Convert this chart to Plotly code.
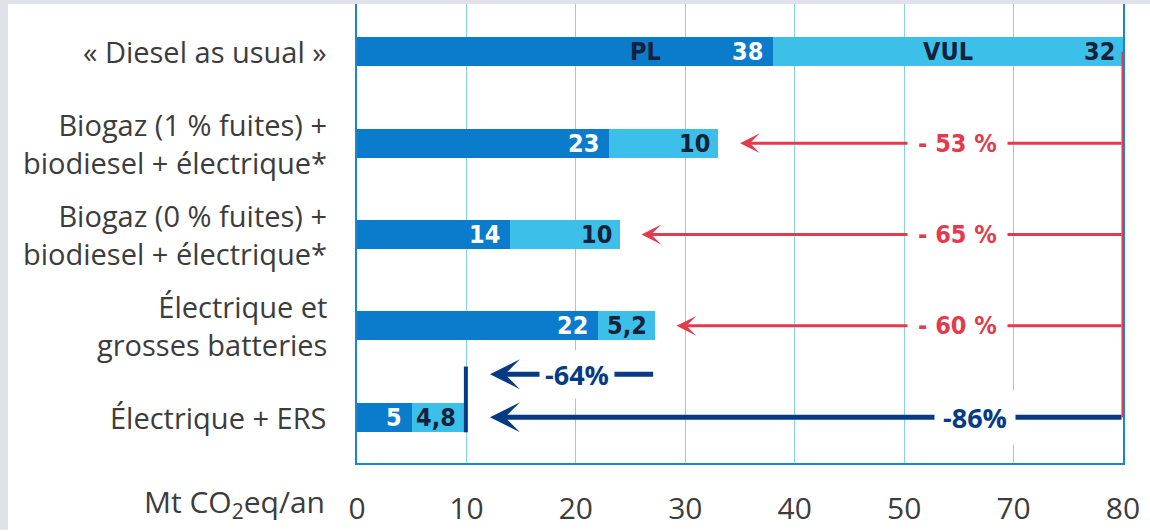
import plotly.graph_objects as go

# ---------------- data ----------------
categories = [
    "« Diesel as usual »",
    "Biogaz (1 % fuites) +<br>biodiesel + électrique*",
    "Biogaz (0 % fuites) +<br>biodiesel + électrique*",
    "Électrique et<br>grosses batteries",
    "Électrique + ERS",
]
pl = [38, 23, 14, 22, 5]
vul = [32, 10, 10, 5.2, 4.8]
pl_labels = ["38", "23", "14", "22", "5"]
vul_labels = ["32", "10", "10", "5,2", "4,8"]
series_names = ["PL", "VUL"]
red_rows = [1, 2, 3]
red_labels = ["- 53 %", "- 65 %", "- 60 %"]
navy_labels = ["-64%", "-86%"]
tick_vals = [0, 10, 20, 30, 40, 50, 60, 70]
tick_text = ["0", "10", "20", "30", "40", "50", "70", "80"]
axis_title = "Mt CO<sub>2</sub>eq/an"

# ---------------- style ----------------
W, H = 1150, 532
ML, MR, MT, MB = 357, 27, 4, 67
PW, PH = W - ML - MR, H - MT - MB
DARK = "#0B7CCB"
LIGHT = "#3CC0E9"
RED = "#E23B4E"
NAVY = "#063A85"
AXIS = "#1A86D0"
GRID = "#86D2E8"
TXT = "#3C3C3C"
COND = "Liberation Sans Narrow, DejaVu Sans Condensed, Arial Narrow, sans-serif"
SANS = "Open Sans, Noto Sans, sans-serif"

y = list(range(len(categories)))
totals = [a + b for a, b in zip(pl, vul)]
base = totals[0]

fig = go.Figure()
fig.add_trace(go.Bar(y=y, x=pl, orientation="h", name=series_names[0],
                     marker=dict(color=DARK, line=dict(width=0)), width=0.315,
                     hoverinfo="skip", showlegend=False))
fig.add_trace(go.Bar(y=y, x=vul, orientation="h", name=series_names[1],
                     marker=dict(color=LIGHT, line=dict(width=0)), width=0.315,
                     hoverinfo="skip", showlegend=False))

ann = []
shapes = []

# grey frame strips (top and left)
shapes.append(dict(type="rect", xref="paper", yref="paper",
                   x0=-ML / PW, x1=(W - ML) / PW, y0=1, y1=1 + MT / PH,
                   fillcolor="#E1E1EA", line=dict(width=0), layer="above"))
shapes.append(dict(type="rect", xref="paper", yref="paper",
                   x0=-ML / PW, x1=(-ML + 8) / PW, y0=-MB / PH, y1=1 + MT / PH,
                   fillcolor="#E1E1EA", line=dict(width=0), layer="above"))

# category labels
for i, c in enumerate(categories):
    ann.append(dict(x=0, y=i, xref="x", yref="y", text=c, showarrow=False,
                    xanchor="right", yanchor="middle", xshift=-28, align="right",
                    font=dict(family=SANS, size=29, color=TXT)))

# bar value labels
LBL = 25
for i in y:
    ann.append(dict(x=pl[i], y=i, text=pl_labels[i], showarrow=False,
                    xanchor="right", yanchor="middle", xshift=-8,
                    font=dict(family=COND, size=LBL, color="white", weight=700)))
    ann.append(dict(x=totals[i], y=i, text=vul_labels[i], showarrow=False,
                    xanchor="right", yanchor="middle", xshift=-6,
                    font=dict(family=COND, size=LBL, color="#14213A", weight=700)))
# series names in top bar
ann.append(dict(x=26.4, y=0, text=series_names[0], showarrow=False, xanchor="center",
                yanchor="middle", font=dict(family=COND, size=LBL, color="#14213A", weight=700)))
ann.append(dict(x=54.0, y=0, text=series_names[1], showarrow=False, xanchor="center",
                yanchor="middle", font=dict(family=COND, size=LBL, color="#14213A", weight=700)))

# red vertical reference line
shapes.append(dict(type="line", x0=base, x1=base, y0=0, y1=len(categories) - 1,
                   xref="x", yref="y", line=dict(color=RED, width=3), layer="above"))

# red arrows
for r, lab in zip(red_rows, red_labels):
    ann.append(dict(x=totals[r] + 2, y=r, ax=base, ay=r, axref="x", ayref="y",
                    xref="x", yref="y", text="", showarrow=True,
                    arrowhead=3, arrowsize=1.1, arrowwidth=3, arrowcolor=RED, standoff=0))
    ann.append(dict(x=54.9, y=r, text=lab, showarrow=False, xanchor="center",
                    yanchor="middle", bgcolor="white", borderpad=10,
                    font=dict(family=COND, size=LBL, color=RED, weight=700)))

# navy arrows
last = len(categories) - 1
tip = totals[last] + 2.35
ymid = last - 0.47
ann.append(dict(x=tip, y=ymid, ax=totals[3], ay=ymid, axref="x", ayref="y",
                xref="x", yref="y", text="", showarrow=True,
                arrowhead=3, arrowsize=1.0, arrowwidth=5, arrowcolor=NAVY, standoff=0))
ann.append(dict(x=20.1, y=ymid, text=navy_labels[0], showarrow=False, xanchor="center",
                yanchor="middle", bgcolor="white", borderpad=5,
                font=dict(family=SANS, size=27, color=NAVY, weight=700)))
ann.append(dict(x=tip, y=last, ax=base, ay=last, axref="x", ayref="y",
                xref="x", yref="y", text="", showarrow=True,
                arrowhead=3, arrowsize=1.0, arrowwidth=5, arrowcolor=NAVY, standoff=0))
ann.append(dict(x=56.5, y=last, text=navy_labels[1], showarrow=False, xanchor="center",
                yanchor="middle", bgcolor="white", borderpad=8,
                font=dict(family=SANS, size=27, color=NAVY, weight=700)))
shapes.append(dict(type="line", x0=totals[last] + 0.15, x1=totals[last] + 0.15,
                   y0=last - 0.555, y1=last + 0.165, xref="x", yref="y",
                   line=dict(color=NAVY, width=4), layer="above"))

# axis title
ann.append(dict(x=0, y=-40 / PH, xref="x", yref="paper", text=axis_title,
                showarrow=False, xanchor="right", yanchor="middle", xshift=-30,
                font=dict(family=SANS, size=30, color=TXT)))

fig.update_layout(
    width=W, height=H, margin=dict(l=ML, r=MR, t=MT, b=MB, pad=0),
    barmode="stack", bargap=0, plot_bgcolor="white", paper_bgcolor="white",
    showlegend=False, annotations=ann, shapes=shapes,
    xaxis=dict(range=[0, base], tickvals=tick_vals, ticktext=tick_text,
               showgrid=True, gridcolor=GRID, gridwidth=1, zeroline=False,
               showline=True, linecolor=AXIS, linewidth=2,
               ticks="outside", ticklen=18, tickcolor="rgba(0,0,0,0)",
               tickfont=dict(family=SANS, size=30, color=TXT), fixedrange=True),
    yaxis=dict(range=[len(categories) - 0.499, -0.523], showticklabels=False,
               showgrid=False, zeroline=False, showline=True, mirror=True,
               linecolor=AXIS, linewidth=2, ticks="", fixedrange=True),
)

fig.write_html("out.html", config={"displayModeBar": False})
